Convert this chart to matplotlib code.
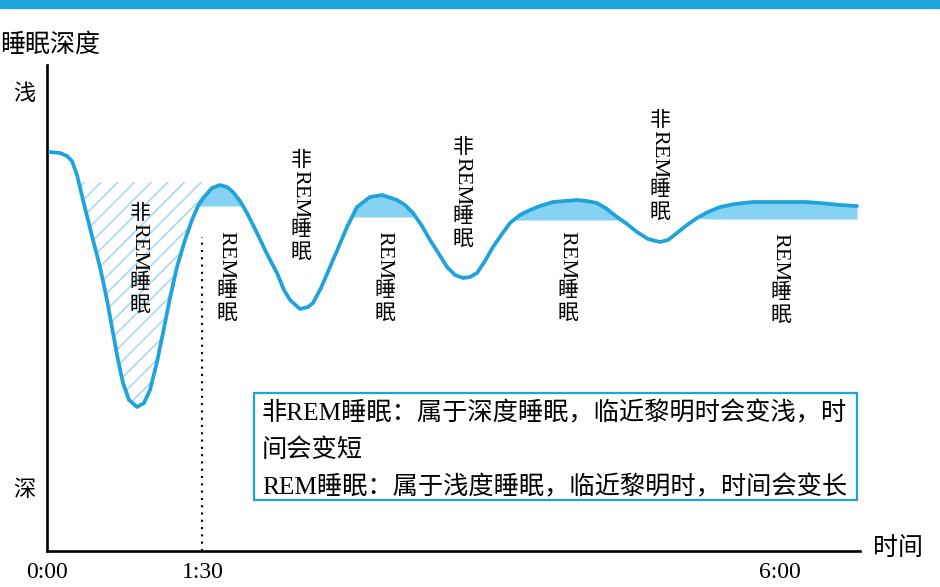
import numpy as np
import matplotlib
matplotlib.use("Agg")
from matplotlib import pyplot as plt
from matplotlib.patches import Rectangle

plt.rcParams['font.family'] = ['Liberation Serif', 'Noto Sans CJK SC', 'DejaVu Sans']
plt.rcParams['hatch.linewidth'] = 1.2

BLUE = '#1ea3dc'
LIGHT = '#86d2f2'
HATCH = '#a9d9ef'
CJK = ['Noto Sans CJK SC', 'DejaVu Sans']

# sleep depth curve (x: schematic time, y: lightness of sleep)
curve_x = [3, 13, 20, 25, 30, 36, 44, 53, 60, 66, 71, 76, 82, 90, 97, 103, 110, 116,
           123, 130, 138, 145, 151, 157, 165, 173, 180, 186, 193, 200, 210, 220, 230,
           237, 243, 253, 261, 266, 274, 283, 292, 300, 310, 323, 335, 350, 358, 366,
           375, 383, 392, 400, 408, 416, 423, 430, 438, 446, 455, 463, 473, 483, 493,
           506, 518, 530, 540, 550, 560, 570, 580, 590, 601, 613, 621, 630, 640, 650,
           661, 673, 688, 706, 723, 740, 758, 773, 793, 810]
curve_y = [399, 398, 395, 390, 376, 351, 319, 284, 251, 218, 191, 168, 151, 144, 148,
           161, 189, 218, 253, 284, 311, 331, 345, 354, 363, 366, 364, 359, 350, 338,
           318, 297, 278, 261, 251, 242, 244, 248, 263, 284, 305, 324, 344, 354, 356,
           351, 346, 338, 325, 311, 297, 284, 276, 273, 274, 278, 290, 304, 317, 328,
           336, 341, 345, 349, 350, 351, 350, 348, 342, 334, 327, 319, 312, 309, 311,
           318, 326, 333, 339, 344, 347, 349, 349, 349, 349, 348, 346, 345]

# first non-REM phase (hatched): level and x span
nrem_level = 369
nrem_span = (31, 160)
# REM phases (solid fill): level and x span
rem_levels = [345, 334, 331, 332]
rem_spans = [(150, 200), (300, 370), (455, 580), (653, 810)]

rem_start = 155
tick_pos = [0, 156, 733]
tick_labels = ['0:00', '1:30', '6:00']

# vertical labels: (x centre, top y, is non-REM)
labels = [(93, 348, True), (180, 318, False), (254, 401, True), (338, 318, False),
          (416, 414, True), (521, 318, False), (613, 441, True), (734, 316, False)]

legend_lines = ['非REM睡眠：属于深度睡眠，临近黎明时会变浅，时',
                '间会变短',
                'REM睡眠：属于浅度睡眠，临近黎明时，时间会变长']

W, H = 940, 587
fig = plt.figure(figsize=(W / 100, H / 100), dpi=100)
ax = fig.add_axes([47 / W, (H - 551) / H, 813 / W, 486 / H])
ax.set_xlim(0, 813)
ax.set_ylim(0, 486)
for side in ['top', 'right']:
    ax.spines[side].set_visible(False)
for side in ['left', 'bottom']:
    ax.spines[side].set_linewidth(1.9)
    ax.spines[side].set_color('black')
ax.set_yticks([])
ax.set_xticks(tick_pos, tick_labels, fontsize=17, family='Liberation Serif')
ax.tick_params(axis='x', length=0, pad=8)

fig.patches.append(Rectangle((0, 1 - 8 / H), 1, 8 / H, transform=fig.transFigure,
                             color=BLUE, zorder=0))

cx = np.array(curve_x)
cy = np.array(curve_y)

ax.fill_between(cx, cy, nrem_level,
                where=(cy < nrem_level) & (cx >= nrem_span[0]) & (cx <= nrem_span[1]),
                interpolate=True, facecolor='none', edgecolor=HATCH, hatch='//',
                linewidth=0)
for lvl, (a, b) in zip(rem_levels, rem_spans):
    ax.fill_between(cx, cy, lvl, where=(cy > lvl) & (cx >= a) & (cx <= b),
                    interpolate=True, color=LIGHT, linewidth=0)

ax.plot(cx, cy, color=BLUE, lw=2.7, solid_capstyle='round', zorder=3)
ax.plot([rem_start, rem_start], [0, 314], color='black', lw=1.5,
        linestyle=(0, (1, 2.5)))


def vlabel(x, ytop, nrem):
    if nrem:
        ax.text(x, ytop - 10, '非', ha='center', va='center', fontsize=15, family=CJK)
        yr = ytop - 44
    else:
        yr = ytop - 22
    ax.text(x - 1, yr, 'REM', rotation=-90, ha='center', va='center', fontsize=16,
            family='Liberation Serif')
    ax.text(x, yr - 35, '睡', ha='center', va='center', fontsize=15, family=CJK)
    ax.text(x, yr - 58, '眠', ha='center', va='center', fontsize=15, family=CJK)


for x, yt, nrem in labels:
    vlabel(x, yt, nrem)

ax.add_patch(Rectangle((207, 51), 603, 107, facecolor='white', edgecolor=BLUE,
                       lw=1.6, zorder=4))
for i, line in enumerate(legend_lines):
    ax.text(215, 138 - i * 37, line, ha='left', va='center', fontsize=18.2, zorder=5)

ax.text(-47, 506, '睡眠深度', ha='left', va='center', fontsize=18, family=CJK,
        clip_on=False)
ax.text(-23, 458, '浅', ha='center', va='center', fontsize=16, family=CJK, clip_on=False)
ax.text(-23, 62, '深', ha='center', va='center', fontsize=16, family=CJK, clip_on=False)
ax.text(851, 3, '时间', ha='center', va='center', fontsize=18, family=CJK, clip_on=False)

fig.savefig('out.png', dpi=100)
